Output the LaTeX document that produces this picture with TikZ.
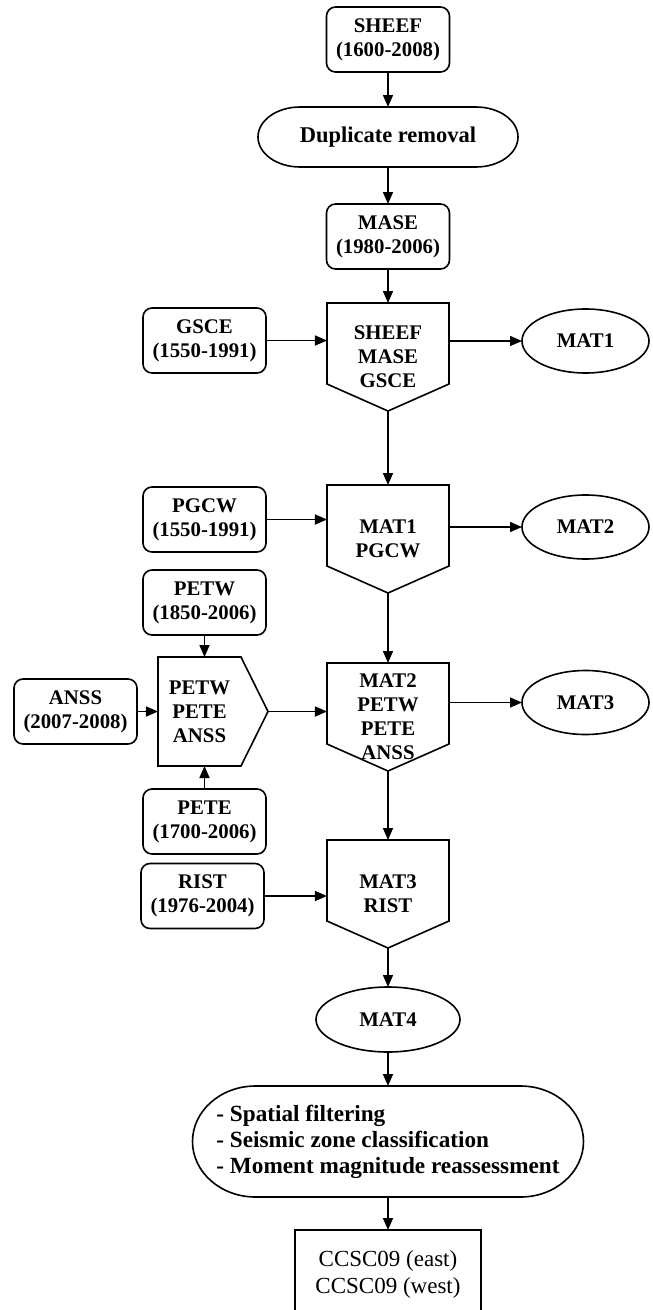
\documentclass[tikz,border=0pt]{standalone}
\usepackage{fontspec}
\setmainfont{Liberation Serif}
\usepackage{tikz}
\usetikzlibrary{positioning,shapes.geometric,arrows.meta}

\newcommand{\boxfont}{\bfseries\fontsize{20.8bp}{24bp}\selectfont}
\tikzset{
  src/.style={draw, rectangle, rounded corners=9bp, minimum width=123bp, minimum height=65bp, inner sep=0pt, outer sep=0pt, align=center, font=\boxfont},
  merge/.style={rectangle, minimum width=122bp, minimum height=108bp, inner sep=0pt, outer sep=0pt, align=center, font=\boxfont},
  mergeside/.style={rectangle, minimum width=83bp, minimum height=109bp, inner sep=0pt, outer sep=0pt, align=center, font=\boxfont},
  result/.style={draw, ellipse, minimum width=127bp, minimum height=64bp, inner sep=0pt, outer sep=0pt, font=\boxfont},
  term/.style={rectangle, minimum height=60bp, inner sep=0pt, outer sep=0pt, font=\boxfont},
  final/.style={draw, rectangle, minimum width=186bp, minimum height=88bp, inner sep=0pt, outer sep=0pt, align=center, font=\fontsize{23bp}{27bp}\selectfont}
}
% pentagon and terminator outlines
\newcommand{\mergedown}[1]{\draw (#1.north west) -- (#1.north east) -- ([yshift=27bp]#1.south east) -- (#1.south) -- ([yshift=27bp]#1.south west) -- cycle;}
\newcommand{\mergeright}[1]{\draw (#1.north west) -- (#1.north east) -- (#1-tip) -- (#1.south east) -- (#1.south west) -- cycle;}
\newcommand{\termshape}[3]{\draw ([xshift=#2]#1.north west) -- ([xshift=-#2]#1.north east) arc[start angle=90, end angle=-90, x radius=#2, y radius=#3] -- ([xshift=#2]#1.south west) arc[start angle=270, end angle=90, x radius=#2, y radius=#3] -- cycle;}

\begin{document}
\begin{tikzpicture}[line width=1.6bp, >={Triangle[length=12bp,width=10bp]}]
	\useasboundingbox (-388bp,39.5bp) rectangle ++(653bp,-1310bp);
	\node [src] (sheef) at (0,0) {SHEEF\\(1600-2008)};
	\node [term, minimum width=260bp, font=\bfseries\fontsize{22.5bp}{26bp}\selectfont, below=35bp of sheef] (dup) {Duplicate removal};
	\node [src, below=37bp of dup] (mase) {MASE\\(1980-2006)};
	\node [merge, below=34bp of mase] (m1) {SHEEF\\MASE\\GSCE};
	\node [merge, below=74bp of m1] (m2) {MAT1\\PGCW};
	\node [merge, below=70bp of m2] (m3) {MAT2\\PETW\\PETE\\ANSS};
	\node [merge, below=69bp of m3] (m4) {MAT3\\RIST};
	\node [result, minimum width=144bp, minimum height=65bp, below=39bp of m4] (mat4) {MAT4};
	\node [term, minimum width=391bp, minimum height=111bp, align=left, font=\bfseries\fontsize{23.2bp}{26bp}\selectfont, below=34bp of mat4] (steps) {- Spatial filtering\\- Seismic zone classification\\- Moment magnitude reassessment};
	\node [final, below=33bp of steps] (ccsc) {CCSC09 (east)\\CCSC09 (west)};
	
	\node [src, left=61bp of m1, yshift=16.5bp] (gsce) {GSCE\\(1550-1991)};
	\node [result, right=73bp of m1, yshift=16bp] (mat1) {MAT1};
	\node [src, left=61bp of m2, yshift=19.5bp] (pgcw) {PGCW\\(1550-1991)};
	\node [result, right=73bp of m2, yshift=12bp] (mat2) {MAT2};
	\node [result, right=73bp of m3, yshift=14.5bp] (mat3) {MAT3};
	\node [mergeside, left=86bp of m3, yshift=5.5bp] (anssm) {PETW\\PETE\\ANSS};
	\coordinate (anssm-tip) at ([xshift=27bp]anssm.east);
	\node [src, left=21bp of anssm] (anss) {ANSS\\(2007-2008)};
	\node [src, above=22bp of anssm, xshift=5bp] (petw) {PETW\\(1850-2006)};
	\node [src, below=23bp of anssm, xshift=5bp] (pete) {PETE\\(1700-2006)};
	\node [src, left=63bp of m4, yshift=-2bp] (rist) {RIST\\(1976-2004)};
	
	\termshape{dup}{42bp}{30bp}
	\termshape{steps}{63bp}{55.5bp}
	\mergedown{m1}
	\mergedown{m2}
	\mergedown{m3}
	\mergedown{m4}
	\mergeright{anssm}
	
	\draw [->] (sheef) -- (dup);
	\draw [->] (dup) -- (mase);
	\draw [->] (mase) -- (m1);
	\draw [->] (m1) -- (m2);
	\draw [->] (m2) -- (m3);
	\draw [->] (m3) -- (m4);
	\draw [->] (m4) -- (mat4);
	\draw [->] (mat4) -- (steps);
	\draw [->] (steps) -- (ccsc);
	\draw [->] (gsce) -- (gsce -| m1.west);
	\draw [->] (mat1 -| m1.east) -- (mat1);
	\draw [->] (pgcw) -- (pgcw -| m2.west);
	\draw [->] (mat2 -| m2.east) -- (mat2);
	\draw [->] (anss) -- (anss -| anssm.west);
	\draw [->] (petw) -- (petw |- anssm.north);
	\draw [->] (pete) -- (pete |- anssm.south);
	\draw [->] (anssm-tip) -- (anssm-tip -| m3.west);
	\draw [->] (mat3 -| m3.east) -- (mat3);
	\draw [->] (rist) -- (rist -| m4.west);
\end{tikzpicture}
\end{document}
